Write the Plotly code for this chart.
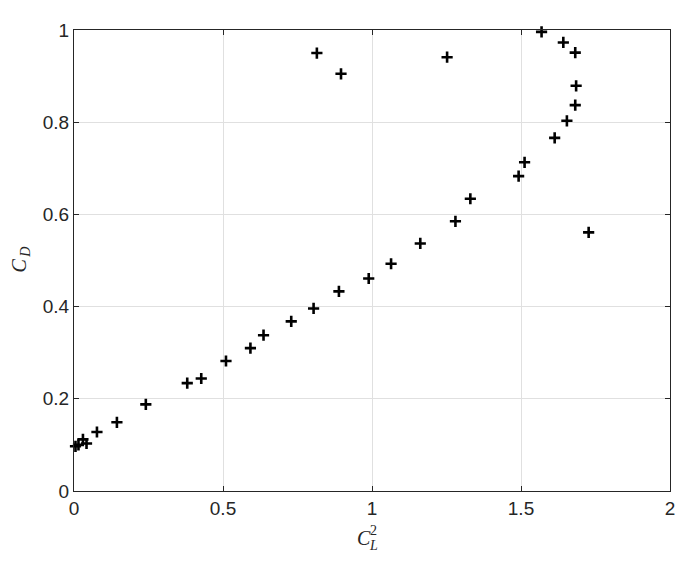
import plotly.graph_objects as go

# C_L^2 and C_D values
cl2 = [0.005, 0.015, 0.030, 0.042, 0.077, 0.144, 0.241, 0.380, 0.427, 0.510,
       0.592, 0.636, 0.729, 0.804, 0.889, 0.989, 1.064, 1.162, 1.280, 1.330,
       1.492, 1.512, 1.613, 1.654, 1.682, 1.685, 1.682, 1.642, 1.569, 1.727,
       1.252, 0.815, 0.896]
cd = [0.097, 0.100, 0.112, 0.103, 0.128, 0.149, 0.188, 0.234, 0.244, 0.282,
      0.310, 0.338, 0.368, 0.396, 0.433, 0.461, 0.493, 0.537, 0.585, 0.634,
      0.683, 0.713, 0.766, 0.803, 0.837, 0.879, 0.951, 0.973, 0.996, 0.561,
      0.941, 0.950, 0.905]

x_ticks = [0, 0.5, 1, 1.5, 2]
x_labels = ["0", "0.5", "1", "1.5", "2"]
y_ticks = [0, 0.2, 0.4, 0.6, 0.8, 1]
y_labels = ["0", "0.2", "0.4", "0.6", "0.8", "1"]

axis_col = "#262626"
grid_col = "#e0e0e0"

fig = go.Figure()
fig.add_trace(go.Scatter(
    x=cl2, y=cd,
    mode="markers",
    marker=dict(symbol="cross-thin", size=8, line=dict(color="black", width=2.6)),
    cliponaxis=False,
    showlegend=False
))

common = dict(
    showline=True, linecolor=axis_col, linewidth=1, mirror="ticks",
    ticks="inside", ticklen=5, tickcolor=axis_col,
    showgrid=True, gridcolor=grid_col, gridwidth=1,
    zeroline=False,
    tickfont=dict(family="Liberation Sans, Arial", size=19, color=axis_col),
)

# page body adds an 8 px offset, so margins are shifted by 8
fig.update_layout(
    width=697, height=561,
    margin=dict(l=66, r=35, t=13, b=78),
    plot_bgcolor="white", paper_bgcolor="white",
    xaxis=dict(range=[0, 2], tickvals=x_ticks, ticktext=x_labels, **common),
    yaxis=dict(range=[0, 1], tickvals=y_ticks, ticktext=y_labels, **common),
)

label_font = dict(family="Liberation Serif, DejaVu Serif", size=20, color=axis_col)
small_font = dict(family="Liberation Serif, DejaVu Serif", size=14, color=axis_col)

# x label: C with subscript L and superscript 2 stacked
fig.add_annotation(text="<i>C</i>", xref="paper", yref="paper", x=0.4866, y=-0.102,
                   showarrow=False, font=label_font, xanchor="center", yanchor="middle")
fig.add_annotation(text="<i>L</i>", xref="paper", yref="paper", x=0.503, y=-0.118,
                   showarrow=False, font=small_font, xanchor="center", yanchor="middle")
fig.add_annotation(text="2", xref="paper", yref="paper", x=0.503, y=-0.085,
                   showarrow=False, font=small_font, xanchor="center", yanchor="middle")

# y label: C_D rotated
fig.add_annotation(text="<i>C</i>", xref="paper", yref="paper", x=(19 - 74) / 596, y=(491 - 261) / 470,
                   showarrow=False, font=label_font, textangle=-90, xanchor="center", yanchor="middle")
fig.add_annotation(text="<i>D</i>", xref="paper", yref="paper", x=(26 - 74) / 596, y=(491 - 248) / 470,
                   showarrow=False, font=small_font, textangle=-90, xanchor="center", yanchor="middle")

fig.write_html("out.html")
